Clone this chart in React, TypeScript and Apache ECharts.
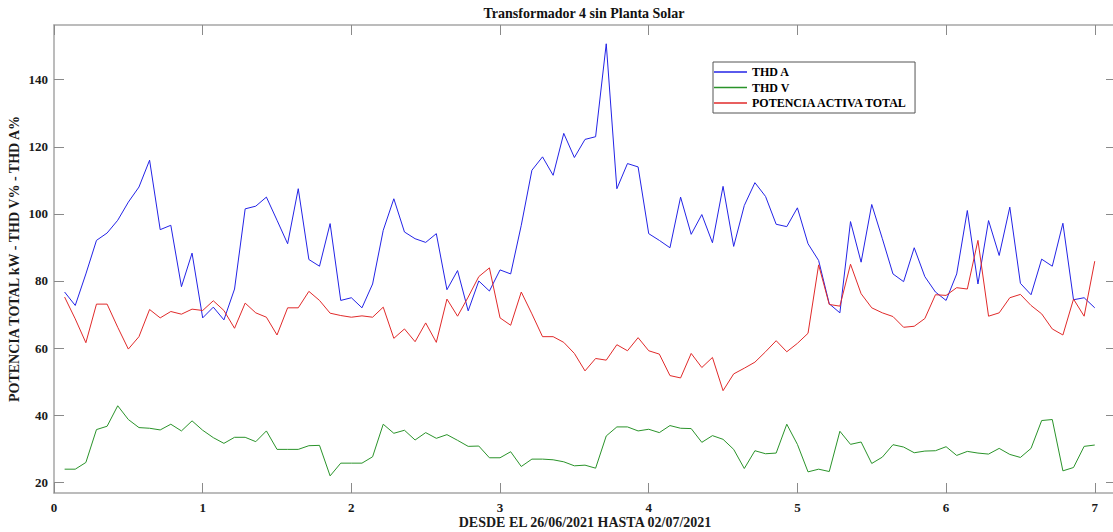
import React, { useEffect, useRef } from "react";
import * as echarts from "echarts";

const TITLE = "Transformador 4 sin Planta Solar";
const X_NAME = "DESDE EL 26/06/2021 HASTA 02/07/2021";
const Y_NAME = "POTENCIA TOTAL kW - THD V% - THD A%";
const SERIES_NAMES = ["THD A", "THD V", "POTENCIA ACTIVA TOTAL"];
const X_TICKS = [0, 1, 2, 3, 4, 5, 6, 7];
const Y_TICKS = [20, 40, 60, 80, 100, 120, 140];
const SAMPLES_PER_DAY = 14;

const thdA = [
  76.7, 72.7, 82.1, 92.1, 94.3, 98.1, 103.5, 108, 116, 95.3,
  96.6, 78.3, 88.3, 69, 72.2, 68.4, 77.6, 101.5, 102.3, 105,
  98.1, 91.1, 107.5, 86.4, 84.4, 97.1, 74.2, 75, 72, 79.1,
  95.1, 104.5, 94.6, 92.6, 91.5, 94.1, 77.4, 83.1, 71.1, 80,
  77, 83.3, 82.1, 96.6, 113, 117, 111.5, 124, 116.8, 122.2,
  123, 150.7, 107.5, 115, 114, 94.1, 92.1, 89.9, 105, 93.9,
  99.8, 91.4, 108.2, 90.3, 102.5, 109.3, 105.2, 96.9, 96.2, 101.8,
  91.1, 86.1, 73.2, 70.5, 97.7, 85.6, 102.8, 92.6, 82.1, 79.8,
  89.9, 81.3, 76.7, 74.2, 82.1, 101, 79.1, 98, 87.6, 102,
  79.3, 75.9, 86.5, 84.4, 97.2, 74.4, 75, 72,
];

const thdV = [
  23.9, 23.9, 25.9, 35.7, 36.7, 42.8, 38.7, 36.3, 36.1, 35.6,
  37.3, 35.3, 38.3, 35.5, 33.3, 31.6, 33.4, 33.4, 32.1, 35.3,
  29.8, 29.8, 29.8, 30.9, 31, 21.9, 25.7, 25.7, 25.7, 27.6,
  37.3, 34.6, 35.5, 32.6, 34.8, 33.1, 34.2, 32.5, 30.7, 30.8,
  27.3, 27.3, 29.1, 24.7, 26.9, 26.9, 26.7, 26.1, 24.9, 25.1,
  24.2, 33.8, 36.5, 36.5, 35.3, 35.8, 34.8, 36.9, 36.1, 36,
  31.9, 33.9, 32.8, 29.8, 24.1, 29.4, 28.5, 28.7, 37.3, 31.3,
  23.1, 23.9, 23.2, 35.2, 31.3, 32, 25.6, 27.5, 31.2, 30.5,
  28.8, 29.3, 29.4, 30.6, 28, 29.2, 28.7, 28.4, 30.1, 28.3,
  27.4, 30.1, 38.4, 38.7, 23.4, 24.4, 30.7, 31.1,
];

const potencia = [
  75.2, 68.7, 61.6, 73.1, 73.1, 66.2, 59.7, 63.4, 71.5, 69,
  70.9, 70.1, 71.6, 71.2, 74.1, 71.2, 65.9, 73.4, 70.5, 69.2,
  63.9, 72, 72, 76.9, 74.2, 70.4, 69.7, 69.2, 69.6, 69.2,
  72.2, 62.9, 65.7, 61.9, 67.5, 61.7, 74.6, 69.5, 75.2, 81.3,
  83.9, 69, 66.8, 76.7, 70.2, 63.4, 63.4, 61.7, 58.4, 53.2,
  56.9, 56.4, 61, 59.2, 63.1, 59.2, 58.2, 51.8, 51.1, 58.4,
  54.2, 57.2, 47.3, 52.3, 54, 55.8, 58.9, 62.2, 58.9, 61.4,
  64.4, 84.8, 73, 72.5, 85, 76.2, 72, 70.5, 69.4, 66.2,
  66.5, 68.8, 75.9, 75.7, 78, 77.6, 92.1, 69.5, 70.5, 75,
  76, 72.7, 70.2, 65.7, 63.9, 74.6, 69.5, 85.9,
];

const COLORS = ["#2323e6", "#2a932a", "#e02a2a"];
const FONT = '"Liberation Serif", "Times New Roman", serif';
const X_MIN = 0;
const X_MAX = 100 / 14;
const Y_MIN = 16.8;
const Y_MAX = 156.3;

const toPairs = (vals: number[]) => vals.map((v, i) => [(i + 1) / SAMPLES_PER_DAY, v]);

export default function App() {
  const ref = useRef<HTMLDivElement>(null);
  useEffect(() => {
    if (!ref.current) return;
    const chart = echarts.init(ref.current, undefined, { renderer: "svg" });
    const axisLine = { show: true, onZero: false, lineStyle: { color: "#a6a6a6", width: 1.5 } };
    const tickStyle = { color: "#8a8a8a", width: 1 };
    const labelStyle = { fontFamily: FONT, fontWeight: "bold", fontSize: 13, color: "#1a1a1a" };
    const nameStyle = { fontFamily: FONT, fontWeight: "bold", fontSize: 14, lineHeight: 15, color: "#1a1a1a" };
    const option: any = {
      animation: false,
      graphic: [
        {
          type: "text",
          x: 584,
          y: 13,
          style: {
            text: TITLE,
            font: `bold 14px ${FONT}`,
            fill: "#111",
            textAlign: "center",
            textVerticalAlign: "middle",
          },
        },
      ],
      legend: {
        data: SERIES_NAMES,
        orient: "vertical",
        left: 713,
        top: 62,
        icon: "rect",
        itemWidth: 33,
        itemHeight: 1.4,
        itemGap: 1.5,
        padding: [3, 7, 3, 1],
        borderColor: "#555",
        borderWidth: 1,
        backgroundColor: "#fff",
        selectedMode: false,
        textStyle: { fontFamily: FONT, fontWeight: "bold", fontSize: 12, lineHeight: 14, color: "#000" },
      },
      grid: { left: 54, top: 25, width: 1062, height: 468, outerBoundsMode: "none", containLabel: false },
      xAxis: [
        {
          type: "value",
          min: X_MIN,
          max: X_MAX,
          position: "bottom",
          axisLine,
          axisTick: { show: true, inside: true, length: 10, customValues: X_TICKS, lineStyle: tickStyle },
          axisLabel: { customValues: X_TICKS, margin: 8, ...labelStyle },
          splitLine: { show: false },
          name: X_NAME,
          nameLocation: "middle",
          nameGap: 22,
          nameMoveOverlap: false,
          nameTextStyle: nameStyle,
        },
        {
          type: "value",
          min: X_MIN,
          max: X_MAX,
          position: "top",
          axisLine,
          axisTick: { show: true, inside: true, length: 10, customValues: X_TICKS, lineStyle: tickStyle },
          axisLabel: { show: false },
          splitLine: { show: false },
        },
      ],
      yAxis: [
        {
          type: "value",
          min: Y_MIN,
          max: Y_MAX,
          position: "left",
          axisLine,
          axisTick: { show: true, inside: true, length: 10, customValues: Y_TICKS, lineStyle: tickStyle },
          axisLabel: { customValues: Y_TICKS, margin: 6, ...labelStyle },
          splitLine: { show: false },
          name: Y_NAME,
          nameLocation: "middle",
          nameGap: 32,
          nameMoveOverlap: false,
          nameTextStyle: nameStyle,
        },
        {
          type: "value",
          min: Y_MIN,
          max: Y_MAX,
          position: "right",
          axisLine,
          axisTick: { show: true, inside: true, length: 10, customValues: Y_TICKS, lineStyle: tickStyle },
          axisLabel: { show: false },
          splitLine: { show: false },
        },
      ],
      series: [thdA, thdV, potencia].map((vals, k) => ({
        name: SERIES_NAMES[k],
        type: "line",
        xAxisIndex: 0,
        yAxisIndex: 0,
        data: toPairs(vals),
        symbol: "none",
        showSymbol: false,
        lineStyle: { color: COLORS[k], width: 1 },
        itemStyle: { color: COLORS[k] },
      })),
    };
    chart.setOption(option);
    return () => chart.dispose();
  }, []);
  return (
    <div
      ref={ref}
      style={{ position: "absolute", left: 0, top: 0, width: 1113, height: 532, background: "#fff" }}
    />
  );
}
